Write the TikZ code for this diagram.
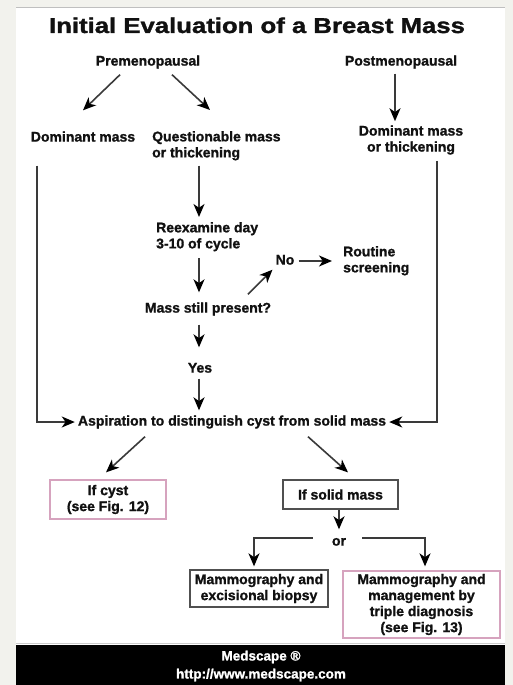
\documentclass[tikz,border=0pt]{standalone}
\usepackage{fontspec}
\setmainfont[BoldFeatures={FakeBold=1.2}]{Liberation Sans}
\usetikzlibrary{arrows.meta}
\definecolor{bg}{HTML}{F2F2ED}
\definecolor{ink}{HTML}{111111}
\definecolor{linec}{HTML}{3A3A3A}
\definecolor{pinkb}{HTML}{D6A3BE}
\definecolor{grayb}{HTML}{505050}
\begin{document}
\begin{tikzpicture}[x=1pt,y=-1pt,
  lbl/.style={font=\bfseries\fontsize{14}{16}\selectfont, text=ink, inner sep=1pt, text height=10.1pt, text depth=2.9pt},
  mlbl/.style={font=\bfseries\fontsize{14}{16}\selectfont, text=ink, inner sep=1pt},
  arr/.style={draw=linec, line width=1.6pt, -{Stealth[length=13pt,width=11pt,inset=3.8pt,color=black]}},
  pinkbox/.style={mlbl, draw=pinkb, line width=1.3pt, align=center},
  graybox/.style={mlbl, draw=grayb, line width=1.3pt, align=center},
  foot/.style={font=\bfseries\fontsize{13.5}{15}\selectfont, text=white, inner sep=1pt}
]
\useasboundingbox (0,0) rectangle (513,685);
\fill[bg] (0,0) rectangle (513,685);
\fill[white] (16,7) rectangle (505,645);
\draw[black!25, line width=1.2pt] (16,7.5) -- (505,7.5);
\draw[black!20, line width=1.5pt] (16,643.5) -- (505,643.5);
\fill[black] (16,645) rectangle (505,685);

\node[font=\bfseries\fontsize{21.5}{24}\selectfont, text=ink, inner sep=0pt, anchor=base] (title) at (257,33) {\scalebox{1.196}[1]{Initial Evaluation of a Breast Mass}};

\node[lbl] (pre) at (148,62) {Premenopausal};
\node[lbl] (post) at (401,62) {Postmenopausal};
\node[lbl] (dom) at (83,138) {Dominant mass};
\node[mlbl, align=left, anchor=north west] (quest) at (151,130) {Questionable mass\\or thickening};
\node[mlbl, align=center] (dom2) at (411,140) {Dominant mass\\or thickening};
\node[mlbl, align=left, anchor=north west] (reex) at (155,221) {Reexamine day\\3-10 of cycle};
\node[lbl] (mass) at (208,309) {Mass still present?};
\node[lbl] (no) at (285,261) {No};
\node[mlbl, align=left, anchor=north west] (routine) at (342,245) {Routine\\screening};
\node[lbl] (yes) at (200,369) {Yes};
\node[lbl] (asp) at (232,422) {Aspiration to distinguish cyst from solid mass};

\node[pinkbox, minimum width=116pt, minimum height=39pt] (cyst) at (108,499.5) {If cyst\\(see Fig. 12)};
\node[graybox, minimum width=115pt, minimum height=29pt] (solid) at (340.5,494.5) {If solid mass};
\node[lbl] (or) at (339,542) {or};
\node[graybox, minimum width=138pt, minimum height=37pt] (mam1) at (259,588.5) {Mammography and\\excisional biopsy};
\node[pinkbox, minimum width=157pt, minimum height=67pt] (mam2) at (421.5,604.5) {Mammography and\\management by\\triple diagnosis\\(see Fig. 13)};

\node[foot] (med) at (261,657) {Medscape ®};
\node[foot] (url) at (261,675) {http://www.medscape.com};

% connectors
\draw[arr] ([shift={(-28,5)}]pre.south) -- ([shift={(0,-20)}]dom.north);
\draw[arr] ([shift={(24,5)}]pre.south) -- ([shift={(59,-20)}]quest.north west);
\draw[arr] ([shift={(-6,4)}]post.south) -- ([shift={(-16,-3)}]dom2.north);
\draw[arr] ([shift={(-46,20)}]dom.south) |- ([xshift=-2pt]asp.west);
\draw[arr] ([shift={(26,5)}]dom2.south) |- ([xshift=2pt]asp.east);
\draw[arr] ([shift={(48,4)}]quest.south west) -- ([shift={(44,-4)}]reex.north west);
\draw[arr] ([shift={(44,6)}]reex.south west) -- ([shift={(-9,-9)}]mass.north);
\draw[arr] ([shift={(40,-7)}]mass.north) -- ([shift={(-2,1)}]no.south west);
\draw[arr] ([xshift=3pt]no.east) -- ([xshift=-10pt]no.east -| routine.west);
\draw[arr] ([shift={(-9,8)}]mass.south) -- ([shift={(-1,-14)}]yes.north);
\draw[arr] ([shift={(-1,2)}]yes.south) -- ([shift={(-33,-4)}]asp.north);
\draw[arr] ([shift={(-87,7)}]asp.south) -- ([shift={(-2,-7)}]cyst.north);
\draw[arr] ([shift={(76,7)}]asp.south) -- ([shift={(7.5,-7)}]solid.north);
\draw[arr] ([shift={(-1.5,0)}]solid.south) -- ([shift={(0,-5)}]or.north);
\draw[arr] ([shift={(-18,-4)}]or.west) -| ([shift={(-5,-3)}]mam1.north);
\draw[arr] ([shift={(15,-4)}]or.east) -| ([shift={(3.5,-4)}]mam2.north);
\end{tikzpicture}
\end{document}
